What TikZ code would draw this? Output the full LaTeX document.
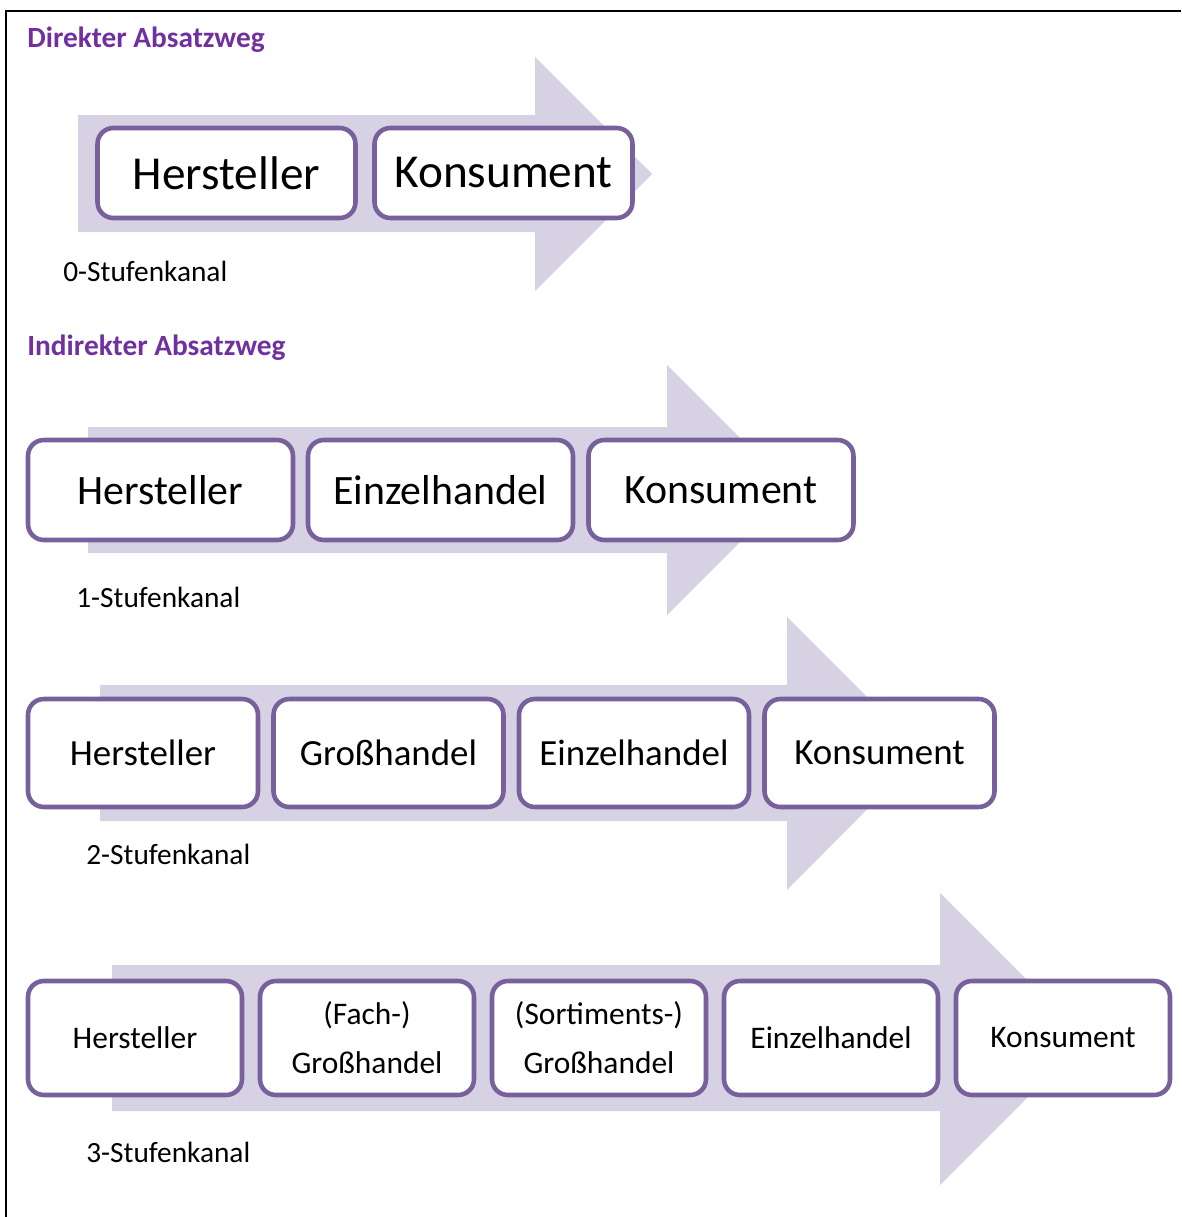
\documentclass[tikz,border=0pt]{standalone}
\usepackage{fontspec}
\setmainfont{Carlito}
\usepackage{tikz}
\definecolor{rahmen}{HTML}{77609B}
\definecolor{pfeil}{HTML}{D6D2E3}
\definecolor{titel}{HTML}{7030A0}
\newcommand{\kanalfont}{\fontsize{16.7pt}{20pt}\selectfont}

\begin{document}
\begin{tikzpicture}[x=0.02cm,y=-0.02cm,
  stufe/.style={draw=rahmen,line width=2.6pt,rounded corners=9pt,fill=white,inner sep=0pt,align=center},
  reihe0/.style={stufe,minimum width=5.16cm,minimum height=1.8cm,font=\fontsize{26.9pt}{32pt}\selectfont},
  reihe1/.style={stufe,minimum width=5.3cm,minimum height=2cm,font=\fontsize{23.8pt}{28pt}\selectfont},
  reihe2/.style={stufe,minimum width=4.6cm,minimum height=2.16cm,font=\fontsize{21pt}{25pt}\selectfont},
  reihe3/.style={stufe,minimum width=4.28cm,minimum height=2.28cm,font=\fontsize{17.9pt}{27.9pt}\selectfont},
  kopf/.style={anchor=base west,inner sep=0pt,text=titel,font=\kanalfont\bfseries},
  kanal/.style={anchor=base west,inner sep=0pt,font=\kanalfont}]
\useasboundingbox (0,0) rectangle (1181,1217);
\draw[line width=1.1pt] (6,1217) -- (6,11) -- (1181,11);

\node[kopf] (direkt) at (27,48) {Direkter Absatzweg};
\fill[pfeil] (78,115) -- (535,115) -- (535,57) -- (652,174) -- (535,291) -- (535,232) -- (78,232) -- cycle;
\node[reihe0] (hersteller0) at (226.5,173) {Hersteller};
\node[reihe0] (konsument0) at (503.5,173) {Konsument};
\node[kanal] (kanal0) at (63,281) {0-Stufenkanal};

\node[kopf] (indirekt) at (27,355) {Indirekter Absatzweg};
\fill[pfeil] (88,427) -- (667,427) -- (667,365) -- (792,490) -- (667,615) -- (667,553) -- (88,553) -- cycle;
\node[reihe1] (hersteller1) at (160.5,490) {Hersteller};
\node[reihe1] (einzel1) at (440.5,490) {Einzelhandel};
\node[reihe1] (konsument1) at (721,490) {Konsument};
\node[kanal] (kanal1) at (76,607) {1-Stufenkanal};

\fill[pfeil] (100,685) -- (787,685) -- (787,617) -- (923,753) -- (787,890) -- (787,821) -- (100,821) -- cycle;
\node[reihe2] (hersteller2) at (143,753) {Hersteller};
\node[reihe2] (gross2) at (388.5,753) {Großhandel};
\node[reihe2] (einzel2) at (634,753) {Einzelhandel};
\node[reihe2] (konsument2) at (879.5,753) {Konsument};
\node[kanal] (kanal2) at (86,864) {2-Stufenkanal};

\fill[pfeil] (112,965) -- (940,965) -- (940,893) -- (1086,1039) -- (940,1185) -- (940,1111) -- (112,1111) -- cycle;
\node[reihe3] (hersteller3) at (135,1038) {Hersteller};
\node[reihe3] (fach3) at (367,1038) {(Fach-)\\Großhandel};
\node[reihe3] (sortiment3) at (599,1038) {(Sortiments-)\\Großhandel};
\node[reihe3] (einzel3) at (831,1038) {Einzelhandel};
\node[reihe3] (konsument3) at (1063,1038) {Konsument};
\node[kanal] (kanal3) at (86,1162) {3-Stufenkanal};
\end{tikzpicture}
\end{document}
